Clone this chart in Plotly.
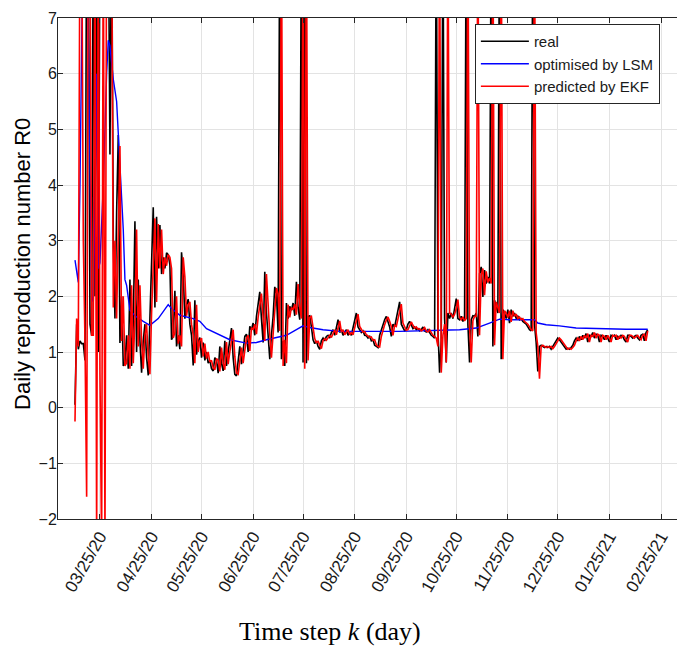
import plotly.graph_objects as go
import pandas as pd

start_date = "2020-03-10"

real_r0 = [
    0.05, 1.5, 1.05, 1.2, 1.15, 1.15, 0.85, 9, 9, 1.5,
    1.3, 9, 2.0, 9, 1.0, 9, 9.5, 10, 9.5, 9,
    9, 4.55, 9, 3.0, 1.6, 3.5, 4.9, 1.16, 2.0, 0.75,
    0.8, 1.3, 0.7, 2.3, 0.75, 1.5, 3.35, 1.0, 2.3, 1.2,
    0.63, 1.2, 1.5, 0.9, 0.58, 1.6, 2.6, 3.6, 1.8, 3.43,
    2.5, 3.28, 2.4, 2.7, 2.5, 2.78, 2.75, 2.57, 1.22, 1.3,
    2.1, 1.1, 1.3, 1.05, 2.79, 2.4, 1.6, 1.85, 1.95, 1.5,
    1.3, 0.76, 1.93, 0.95, 1.2, 1.26, 0.9, 1.17, 0.85, 1.0,
    0.8, 0.85, 0.7, 0.66, 0.9, 0.85, 0.62, 1.1, 0.8, 0.66,
    1.2, 0.75, 1.0, 1.2, 1.43, 0.9, 0.6, 0.57, 0.9, 1.1,
    0.78, 1.0, 1.28, 1.32, 1.0, 1.46, 1.4, 1.52, 1.3, 1.64,
    1.9, 2.08, 1.6, 1.17, 2.44, 1.7, 1.3, 0.87, 1.3, 1.64,
    2.17, 2.05, 1.35, 9, 0.87, 1.2, 0.75, 1.88, 1.6, 1.82,
    1.75, 1.88, 1.65, 2.26, 1.8, 1.58, 9, 0.81, 9, 0.8,
    1.64, 1.65, 1.45, 1.22, 1.15, 1.2, 1.1, 1.05, 1.2, 1.25,
    1.2, 1.28, 1.3, 1.25, 1.35, 1.4, 1.3, 1.45, 1.58, 1.35,
    1.4, 1.3, 1.35, 1.4, 1.3, 1.35, 1.3, 1.45, 1.6, 1.7,
    1.45, 1.4, 1.35, 1.38, 1.3, 1.29, 1.25, 1.28, 1.2, 1.22,
    1.12, 1.1, 1.08, 1.3, 1.4, 1.5, 1.58, 1.64, 1.55, 1.45,
    1.28, 1.5, 1.45, 1.6, 1.75, 1.9, 1.5, 1.45, 1.38, 1.4,
    1.5, 1.55, 1.48, 1.42, 1.45, 1.4, 1.42, 1.38, 1.4, 1.45,
    1.38, 1.36, 1.4, 1.35, 1.3, 1.28, 1.25, 9, 1.4, 0.63,
    1.2, 9, 1.6, 0.81, 1.7, 1.6, 1.7, 1.6, 1.75, 1.96,
    1.6, 1.58, 1.64, 1.55, 1.6, 9, 1.5, 0.81, 1.58, 1.65,
    1.64, 1.7, 1.28, 2.41, 2.53, 1.99, 2.47, 2.23, 2.35, 2.23,
    9, 1.1, 1.93, 1.8, 1.7, 9, 0.87, 1.76, 1.7, 1.6,
    1.76, 1.52, 1.76, 1.64, 1.7, 1.6, 1.64, 1.58, 1.6, 1.55,
    1.52, 1.5, 1.45, 1.4, 1.38, 9, 1.5, 1.17, 0.65, 1.1,
    1.12, 1.1, 1.08, 1.1, 1.08, 1.1, 1.05, 1.1, 1.15, 1.2,
    1.25, 1.22, 1.18, 1.12, 1.08, 1.05, 1.07, 1.05, 1.08, 1.12,
    1.2, 1.25, 1.2, 1.28, 1.22, 1.3, 1.25, 1.33, 1.18, 1.3,
    1.28, 1.35, 1.25, 1.32, 1.3, 1.18, 1.3, 1.28, 1.22, 1.3,
    1.25, 1.18, 1.3, 1.28, 1.3, 1.22, 1.28, 1.25, 1.3, 1.28,
    1.22, 1.18, 1.3, 1.3, 1.28, 1.25, 1.28, 1.3, 1.25, 1.22,
    1.3, 1.32, 1.2, 1.35, 1.4,
]

ekf_r0 = [
    -0.25, 1.6, 1.1, 9, 9, 3.0, 1.2, -1.6, 9, 9,
    1.3, 1.3, 9, -2.5, 9, 0.6, -2.5, 9, -2.5, 9,
    9, 9, 9, 1.8, 3.0, 1.6, 3.5, 4.7, 1.2, 2.0,
    0.75, 0.8, 1.3, 0.7, 2.2, 0.8, 1.6, 3.2, 1.1, 2.2,
    1.2, 0.7, 1.3, 1.5, 0.9, 0.6, 1.7, 2.6, 3.4, 1.9,
    3.3, 2.5, 3.2, 2.4, 2.7, 2.55, 2.75, 2.7, 2.5, 1.25,
    1.35, 2.0, 1.15, 1.3, 1.1, 2.7, 2.35, 1.65, 1.85, 1.9,
    1.5, 1.3, 0.8, 1.85, 1.0, 1.2, 1.25, 0.92, 1.15, 0.88,
    1.0, 0.82, 0.85, 0.72, 0.68, 0.88, 0.85, 0.65, 1.08, 0.8,
    0.68, 1.18, 0.78, 1.0, 1.18, 1.4, 0.92, 0.62, 0.6, 0.88,
    1.08, 0.8, 1.0, 1.25, 1.3, 1.02, 1.44, 1.4, 1.5, 1.32,
    1.62, 1.88, 2.05, 1.62, 1.2, 2.4, 1.72, 1.32, 0.9, 1.3,
    1.62, 2.15, 2.05, 1.38, 9, 0.75, 1.22, 0.8, 1.85, 1.62,
    1.8, 1.76, 1.86, 1.67, 2.22, 1.8, 1.6, 9, 0.7, 9,
    0.85, 1.62, 1.64, 1.46, 1.24, 1.16, 1.2, 1.12, 1.06, 1.2,
    1.24, 1.21, 1.27, 1.3, 1.26, 1.34, 1.4, 1.31, 1.44, 1.56,
    1.36, 1.4, 1.31, 1.35, 1.4, 1.31, 1.35, 1.31, 1.44, 1.58,
    1.68, 1.46, 1.4, 1.36, 1.37, 1.31, 1.29, 1.26, 1.27, 1.21,
    1.22, 1.13, 1.1, 1.09, 1.28, 1.4, 1.49, 1.57, 1.63, 1.55,
    1.46, 1.3, 1.48, 1.46, 1.58, 1.74, 1.86, 1.52, 1.45, 1.39,
    1.4, 1.49, 1.54, 1.48, 1.43, 1.45, 1.41, 1.42, 1.38, 1.4,
    1.44, 1.38, 1.36, 1.4, 1.35, 1.3, 1.28, 1.25, 1.1, 9,
    0.63, 1.3, 1.5, 0.81, 9, 1.7, 1.68, 1.62, 1.68, 1.78,
    1.94, 1.62, 1.58, 1.63, 1.56, 1.6, 9, 1.45, 0.81, 1.56,
    1.64, 1.64, 9, 1.3, 2.38, 2.5, 2.02, 2.45, 2.25, 2.33,
    2.23, 9, 1.12, 1.9, 1.8, 1.7, 9, 0.87, 1.74, 1.7,
    1.62, 1.74, 1.54, 1.74, 1.64, 1.68, 1.6, 1.63, 1.58, 1.6,
    1.55, 1.52, 1.5, 1.45, 1.4, 1.38, 9, 1.35, 1.1, 0.52,
    1.1, 1.12, 1.1, 1.08, 1.1, 1.08, 1.1, 1.06, 1.1, 1.15,
    1.2, 1.25, 1.22, 1.18, 1.12, 1.08, 1.05, 1.07, 1.05, 1.08,
    1.12, 1.2, 1.25, 1.2, 1.28, 1.22, 1.3, 1.25, 1.33, 1.18,
    1.3, 1.28, 1.35, 1.25, 1.32, 1.3, 1.18, 1.3, 1.28, 1.22,
    1.3, 1.25, 1.18, 1.3, 1.28, 1.3, 1.22, 1.28, 1.25, 1.3,
    1.28, 1.22, 1.18, 1.3, 1.3, 1.28, 1.25, 1.28, 1.3, 1.25,
    1.22, 1.3, 1.32, 1.2, 1.38,
]

lsm_day = [0, 2, 3, 4, 5, 7, 9, 10, 11, 12, 13, 14, 15, 17, 19, 20, 21, 23, 25,
           27, 29, 30, 31, 33, 36, 41, 45, 50, 55, 56, 58, 63, 71, 75, 79, 87,
           93, 103, 109, 115, 121, 127, 133, 137, 141, 149, 159, 195, 231, 241,
           249, 255, 261, 276, 278, 283, 291, 301, 331, 344]
lsm_r0 = [2.65, 2.25, 4.0, 6.5, 9, 9, 4.0, 2.0, 1.9, 3.5, 6.0, 2.5, 2.6, 4.0, 6.0,
          6.6, 6.5, 5.9, 5.5, 4.4, 3.2, 2.3, 2.2, 1.75, 1.65, 1.55, 1.48, 1.6,
          1.8, 1.85, 1.78, 1.66, 1.6, 1.55, 1.42, 1.3, 1.22, 1.16, 1.17, 1.22,
          1.26, 1.3, 1.4, 1.47, 1.44, 1.4, 1.37, 1.37, 1.4, 1.43, 1.52, 1.59,
          1.58, 1.58, 1.52, 1.49, 1.47, 1.43, 1.41, 1.41]

tick_dates = ["2020-03-25", "2020-04-25", "2020-05-25", "2020-06-25", "2020-07-25",
              "2020-08-25", "2020-09-25", "2020-10-25", "2020-11-25", "2020-12-25",
              "2021-01-25", "2021-02-25"]
tick_labels = ["03/25/20", "04/25/20", "05/25/20", "06/25/20", "07/25/20", "08/25/20",
               "09/25/20", "10/25/20", "11/25/20", "12/25/20", "01/25/21", "02/25/21"]

x_real = pd.date_range(start_date, periods=len(real_r0), freq="D")
x_ekf = pd.date_range(start_date, periods=len(ekf_r0), freq="D")
x_lsm = pd.Timestamp(start_date) + pd.to_timedelta(lsm_day, unit="D")

fig = go.Figure()
fig.add_trace(go.Scatter(x=x_real, y=real_r0, mode="lines", name="real",
                         line=dict(color="#000000", width=1.6)))
fig.add_trace(go.Scatter(x=x_lsm, y=lsm_r0, mode="lines", name="optimised by LSM",
                         line=dict(color="#0000FF", width=1.4)))
fig.add_trace(go.Scatter(x=x_ekf, y=ekf_r0, mode="lines", name="predicted by EKF",
                         line=dict(color="#FF0000", width=1.6)))

axis_common = dict(
    showline=True, linecolor="#262626", linewidth=1, mirror="allticks",
    ticks="inside", ticklen=5, tickcolor="#262626",
    showgrid=True, gridcolor="#e3e3e3", gridwidth=1, zeroline=False,
    ticklabeloverflow="allow",
)

fig.update_layout(
    width=685, height=646,
    margin=dict(l=50, r=10, t=10, b=135),
    plot_bgcolor="white", paper_bgcolor="white",
    showlegend=True,
    legend=dict(x=0.667, y=0.988, xanchor="left", yanchor="top",
                bgcolor="white", bordercolor="#262626", borderwidth=1,
                itemwidth=48,
                font=dict(family="Liberation Sans, Arial, sans-serif", size=15, color="#1a1a1a"),
                tracegroupgap=0),
    xaxis=dict(type="date", range=["2020-02-28 19:00", "2021-03-10 05:00"],
               tickvals=tick_dates, ticktext=tick_labels, tickangle=-60,
               tickfont=dict(family="Liberation Sans, Arial, sans-serif", size=17, color="#1a1a1a"),
               automargin=False, **axis_common),
    yaxis=dict(range=[-2, 7], dtick=1, tickmode="linear", tick0=0,
               tickfont=dict(family="Liberation Sans, Arial, sans-serif", size=16, color="#1a1a1a"),
               automargin=False, ticklabelstandoff=-3, **axis_common),
    annotations=[
        dict(text="Time step <i>k</i> (day)", x=0.435, y=-0.2255, xref="paper", yref="paper",
             xanchor="center", yanchor="middle", showarrow=False,
             font=dict(family="Liberation Serif, Times New Roman, serif", size=26, color="#000000")),
        dict(text="Daily reproduction number R0", x=-0.056, y=0.509, xref="paper", yref="paper",
             xanchor="center", yanchor="middle", textangle=-90, showarrow=False,
             font=dict(family="Liberation Sans, Arial, sans-serif", size=22, color="#000000")),
    ],
)

fig.write_html("out.html")
